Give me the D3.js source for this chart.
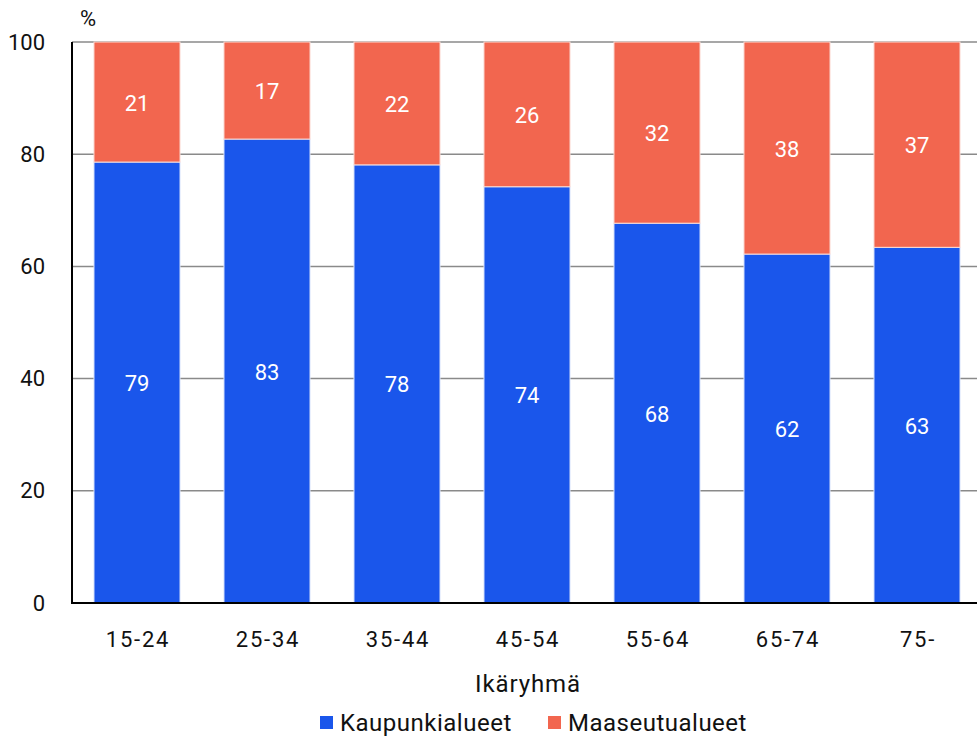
<!DOCTYPE html>
<html><head><meta charset="utf-8">
<script src="https://cdn.jsdelivr.net/npm/d3@7"></script>
<style>body{margin:0;background:#fff}svg{display:block;font-family:Roboto,"Noto Sans",sans-serif}</style>
</head><body>
<svg id="c" width="977" height="738"></svg>
<script>
const categories = ["15-24","25-34","35-44","45-54","55-64","65-74","75-"];
const urban = [78.6, 82.7, 78.1, 74.2, 67.7, 62.2, 63.4];
const rural = [21.4, 17.3, 21.9, 25.8, 32.3, 37.8, 36.6];
const yTicks = [0,20,40,60,80,100];
const seriesNames = ["Kaupunkialueet","Maaseutualueet"];
const colors = ["#1a56eb","#f2664f"];

const svg = d3.select("#c");
const x = d3.scaleBand().domain(categories).range([72,982]).paddingInner(0.338).paddingOuter(0.169);
const y = d3.scaleLinear().domain([0,100]).range([603,42]);

svg.append("g").selectAll("line").data(yTicks.filter(d=>d>0)).join("line")
  .attr("x1",72).attr("x2",977).attr("y1",d=>y(d)).attr("y2",d=>y(d))
  .attr("stroke","#8a8a8a").attr("stroke-width",1.5);

const rows = categories.map((c,i)=>({cat:c, u:urban[i], r:rural[i]}));
const g = svg.append("g");
g.selectAll("rect.u").data(rows).join("rect").attr("class","u")
  .attr("x",d=>x(d.cat)).attr("width",x.bandwidth())
  .attr("y",d=>y(d.u)).attr("height",d=>y(0)-y(d.u))
  .attr("fill",colors[0]).attr("stroke","#dfe6fb").attr("stroke-width",1);
g.selectAll("rect.r").data(rows).join("rect").attr("class","r")
  .attr("x",d=>x(d.cat)).attr("width",x.bandwidth())
  .attr("y",d=>y(d.u+d.r)).attr("height",d=>y(d.u)-y(d.u+d.r))
  .attr("fill",colors[1]).attr("stroke","#fbdcd6").attr("stroke-width",1);

g.selectAll("text.lu").data(rows).join("text")
  .attr("x",d=>x(d.cat)+x.bandwidth()/2).attr("y",d=>(y(d.u)+y(0))/2+1)
  .attr("text-anchor","middle").attr("dominant-baseline","central")
  .attr("fill","#fff").attr("font-size",22).text(d=>Math.round(d.u));
g.selectAll("text.lr").data(rows).join("text")
  .attr("x",d=>x(d.cat)+x.bandwidth()/2).attr("y",d=>(y(d.u)+y(d.u+d.r))/2+1)
  .attr("text-anchor","middle").attr("dominant-baseline","central")
  .attr("fill","#fff").attr("font-size",22).text(d=>Math.round(d.r));

svg.append("line").attr("x1",72).attr("x2",72).attr("y1",42).attr("y2",604).attr("stroke","#000").attr("stroke-width",2);
svg.append("line").attr("x1",71).attr("x2",977).attr("y1",603).attr("y2",603).attr("stroke","#000").attr("stroke-width",2);

svg.append("g").selectAll("text").data(yTicks).join("text")
  .attr("x",45).attr("y",d=>y(d)).attr("text-anchor","end").attr("dominant-baseline","central")
  .attr("font-size",22).attr("fill","#111").text(d=>d);
svg.append("text").attr("x",88).attr("y",18).attr("text-anchor","middle").attr("dominant-baseline","central")
  .attr("font-size",22).attr("fill","#111").text("%");

svg.append("g").selectAll("text").data(categories).join("text")
  .attr("x",d=>x(d)+x.bandwidth()/2+1).attr("y",639).attr("text-anchor","middle").attr("dominant-baseline","central")
  .attr("font-size",22).attr("letter-spacing",1.8).attr("fill","#111").text(d=>d);
svg.append("text").attr("x",528).attr("y",684).attr("text-anchor","middle").attr("dominant-baseline","central")
  .attr("font-size",24).attr("letter-spacing",0.9).attr("fill","#111").text("Ikäryhmä");

const legX = [320, 548];
const lg = svg.append("g");
seriesNames.forEach((n,i)=>{
  lg.append("rect").attr("x",legX[i]).attr("y",716).attr("width",13).attr("height",13).attr("fill",colors[i]);
  lg.append("text").attr("x",legX[i]+20).attr("y",723).attr("dominant-baseline","central")
    .attr("font-size",24).attr("letter-spacing",0.5).attr("fill","#111").text(n);
});
</script>
</body></html>
